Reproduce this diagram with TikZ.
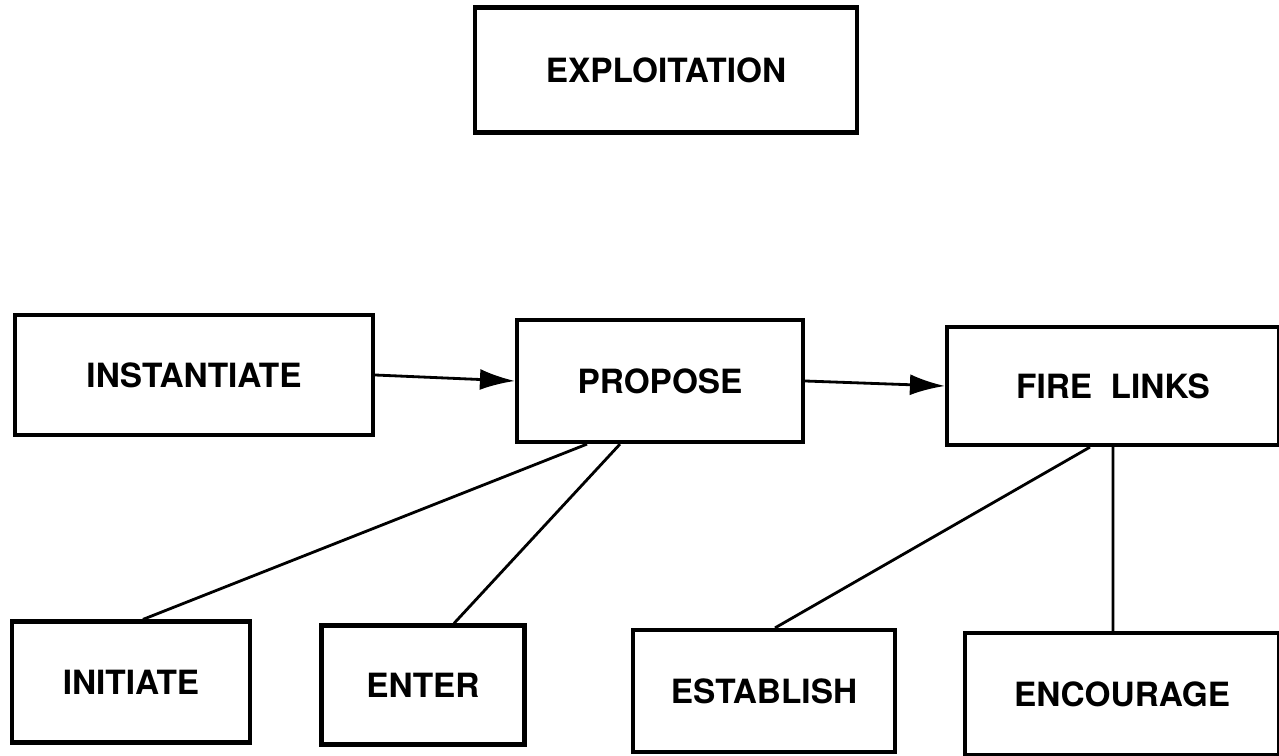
\documentclass[tikz,border=0pt]{standalone}
\usepackage{fontspec}
\setmainfont{TeX Gyre Heros}
\usetikzlibrary{arrows.meta}

\begin{document}
\begin{tikzpicture}[x=0.02cm,y=-0.02cm,
    box/.style={draw,line width=2.4pt,inner sep=0pt,font=\fontsize{19}{23}\selectfont\bfseries},
    link/.style={line width=1.6pt},
    flow/.style={line width=1.6pt,-{Latex[length=7mm,width=4.2mm]}}]
            \useasboundingbox (0,0) rectangle (1279,756);

            \node (exploit) at (666,70) [box,minimum width=7.64cm,minimum height=2.5cm] {EXPLOITATION};

            \node (inst) at (194,375) [box,minimum width=7.16cm,minimum height=2.4cm] {INSTANTIATE};
            \node (prop) at (660,381) [box,minimum width=5.72cm,minimum height=2.44cm] {PROPOSE};
            \node (fire) at (1113,386) [box,minimum width=6.64cm,minimum height=2.36cm] {FIRE\ \ LINKS};

            \node (init) at (131,682) [box,minimum width=4.76cm,minimum height=2.42cm] {INITIATE};
            \node (enter) at (423,685) [box,minimum width=4.06cm,minimum height=2.38cm] {ENTER};
            \node (estab) at (764,691) [box,minimum width=5.24cm,minimum height=2.44cm] {ESTABLISH};
            \node (encour) at (1122,694) [box,minimum width=6.28cm,minimum height=2.44cm] {ENCOURAGE};


            \draw[flow] (inst.east) -- (prop.west);
            \draw[flow] (prop.east) -- (fire.west);

            \draw[link] ([xshift=-1.46cm]prop.south) -- ([xshift=0.24cm]init.north)
                        ([xshift=-0.8cm]prop.south) -- ([xshift=0.62cm]enter.north);
            \draw[link] ([xshift=-0.46cm]fire.south) -- ([xshift=0.22cm]estab.north)
                        (fire.south) -- ([xshift=-0.18cm]encour.north);

        \end{tikzpicture}
\end{document}
